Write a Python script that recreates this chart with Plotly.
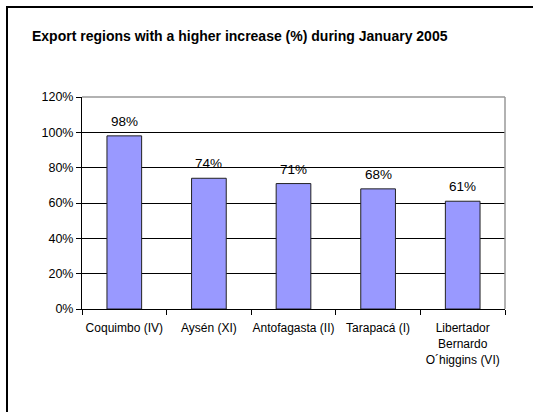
import plotly.graph_objects as go

categories = ["Coquimbo (IV)", "Aysén (XI)", "Antofagasta (II)", "Tarapacá (I)",
              "Libertador<br>Bernardo<br>O´higgins (VI)"]
values = [98, 74, 71, 68, 61]
y_ticks = [0, 20, 40, 60, 80, 100, 120]
y_tick_labels = [f"{v}%" for v in y_ticks]
title_text = "Export regions with a higher increase (%) during January 2005"

W, H = 533, 412
L, R, T, B = 82, 505, 97, 309

def px_x(p):
    return (p - L) / (R - L)

def px_y(p):
    return (B - p) / (B - T)

FONT = "Liberation Sans, Arial"

fig = go.Figure()
fig.add_trace(go.Bar(
    x=categories, y=values,
    marker=dict(color="#9999FF", line=dict(color="#222222", width=1)),
    width=0.41,
    hoverinfo="skip",
))

annotations = []
for c, v in zip(categories, values):
    annotations.append(dict(
        x=c, y=v, xref="x", yref="y", text=f"{v}%", showarrow=False,
        yanchor="bottom", yshift=5,
        font=dict(family=FONT, size=13.5, color="black"),
    ))
annotations.append(dict(
    x=px_x(240), y=px_y(36), xref="paper", yref="paper",
    text="<b>" + title_text + "</b>", showarrow=False,
    xanchor="center", yanchor="middle",
    font=dict(family=FONT, size=14, color="black"),
))

shapes = [
    # plot area border (top and right, gray)
    dict(type="line", xref="paper", yref="paper", x0=0, x1=1, y0=1, y1=1,
         line=dict(color="#999999", width=1.5)),
    dict(type="line", xref="paper", yref="paper", x0=1, x1=1, y0=0, y1=1,
         line=dict(color="#999999", width=1.5)),
    # outer chart border (left and top visible)
    dict(type="line", xref="paper", yref="paper",
         x0=px_x(7), x1=px_x(7), y0=px_y(420), y1=px_y(6),
         line=dict(color="black", width=2)),
    dict(type="line", xref="paper", yref="paper",
         x0=px_x(6), x1=px_x(540), y0=px_y(7), y1=px_y(7),
         line=dict(color="black", width=2)),
]

fig.update_layout(
    width=W, height=H,
    margin=dict(l=L, r=W - R, t=T, b=H - B, pad=0),
    paper_bgcolor="white", plot_bgcolor="white",
    showlegend=False,
    font=dict(family=FONT, size=12, color="black"),
    annotations=annotations,
    shapes=shapes,
)
fig.update_xaxes(
    type="category", showgrid=False, showline=True, linecolor="black", linewidth=1,
    ticks="outside", tickson="boundaries", ticklen=5, tickcolor="black",
    tickangle=0, ticklabelstandoff=8,
    tickfont=dict(family=FONT, size=12, color="black"),
)
fig.update_yaxes(
    range=[0, 120], tickvals=y_ticks, ticktext=y_tick_labels,
    showgrid=True, gridcolor="black", gridwidth=1,
    showline=True, linecolor="black", linewidth=1,
    ticks="outside", ticklen=5, tickcolor="black", zeroline=False,
    tickfont=dict(family=FONT, size=12.5, color="black"),
)

fig.write_html("out.html", config={"displayModeBar": False},
               post_script="document.body.style.margin='0';")
